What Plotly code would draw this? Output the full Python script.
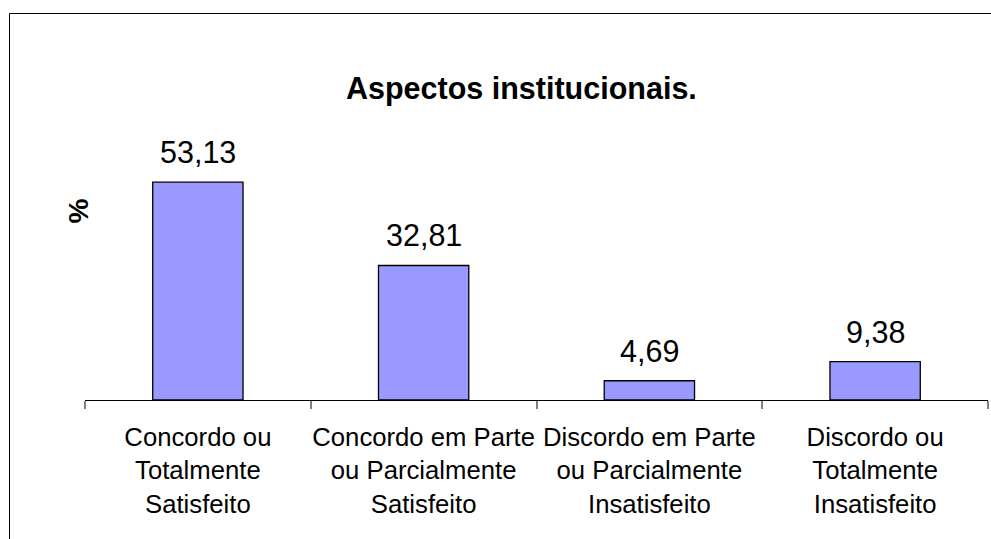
import plotly.graph_objects as go

categories = [
    "Concordo ou<br>Totalmente<br>Satisfeito",
    "Concordo em Parte<br>ou Parcialmente<br>Satisfeito",
    "Discordo em Parte<br>ou Parcialmente<br>Insatisfeito",
    "Discordo ou<br>Totalmente<br>Insatisfeito",
]
values = [53.13, 32.81, 4.69, 9.38]
value_labels = ["53,13", "32,81", "4,69", "9,38"]
title_text = "Aspectos institucionais."
y_label = "%"

FONT = "Arial, Liberation Sans, sans-serif"

W, H = 991, 539
# screen-space plot box (body margin removed below)
SX0, SX1, SY0, SY1 = 85, 988, 154, 400
ML = SX0
MR = W - SX1
MT = SY0
MB = H - SY1
pw = SX1 - SX0
ph = SY1 - SY0

fig = go.Figure()
fig.add_trace(go.Bar(
    x=categories, y=values,
    marker=dict(color="#9999FF", line=dict(color="#000000", width=1.3)),
    hoverinfo="skip",
))

for c, v, t in zip(categories, values, value_labels):
    fig.add_annotation(x=c, y=v, text=t, showarrow=False, yanchor="bottom",
                       yshift=11, font=dict(family=FONT, size=30.5, color="#000000"))

def px_x(px):
    return (px - SX0) / pw

def px_y(py):
    return (SY1 - py) / ph

fig.add_annotation(xref="paper", yref="paper", x=px_x(521.5), y=px_y(88.5),
                   text="<b>" + title_text + "</b>", showarrow=False,
                   xanchor="center", yanchor="middle",
                   font=dict(family=FONT, size=30.5, color="#000000"))
fig.add_annotation(xref="paper", yref="paper", x=px_x(77.5), y=px_y(211),
                   text="<b>" + y_label + "</b>", showarrow=False, textangle=-90,
                   xanchor="center", yanchor="middle",
                   font=dict(family=FONT, size=28, color="#000000"))

fig.add_shape(type="rect", xref="paper", yref="paper",
              x0=px_x(9.5), x1=px_x(1010), y0=px_y(560), y1=px_y(13.5),
              line=dict(color="#000000", width=1), fillcolor="rgba(0,0,0,0)",
              layer="below")

fig.update_layout(
    width=W, height=H,
    margin=dict(l=ML, r=MR, t=MT, b=MB, pad=0, autoexpand=False),
    paper_bgcolor="#FFFFFF", plot_bgcolor="#FFFFFF",
    showlegend=False, bargap=0.6,
    font=dict(family=FONT, color="#000000"),
)
fig.update_xaxes(
    showline=True, linecolor="#000000", linewidth=1,
    ticks="outside", tickson="boundaries", ticklen=8, tickwidth=1.5, tickcolor="#808080",
    tickfont=dict(family=FONT, size=25.7, color="#000000"), tickangle=0,
    showgrid=False, zeroline=False, ticklabelstandoff=14, automargin=False,
)
fig.update_yaxes(range=[0, 60], showticklabels=False, showgrid=False,
                 zeroline=False, showline=False, ticks="", automargin=False)

fig.write_html(
    "out.html",
    config={"displayModeBar": False},
    post_script="document.body.style.margin='0';document.body.style.overflow='hidden';",
)
